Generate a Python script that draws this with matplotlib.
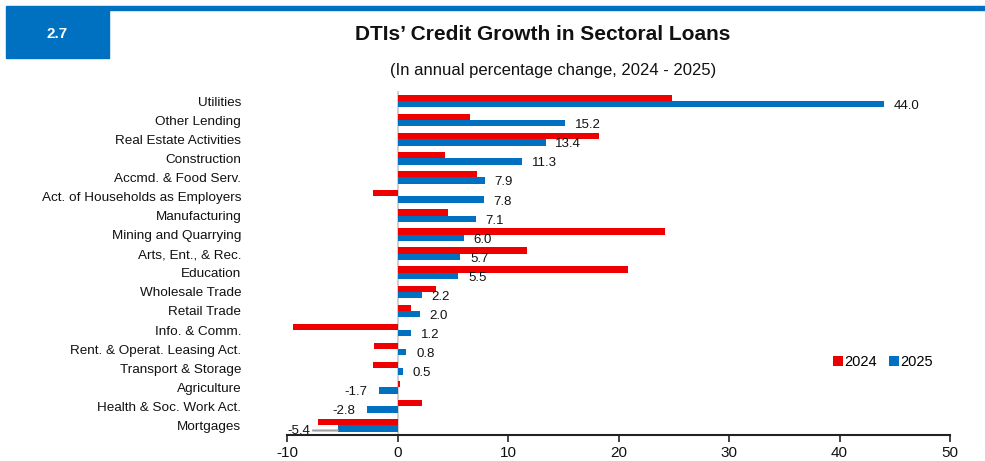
import matplotlib
matplotlib.use("Agg")
import matplotlib.pyplot as plt
from matplotlib.patches import Rectangle
import numpy as np

plt.rcParams['font.family'] = ['Liberation Sans', 'DejaVu Sans']

categories = ["Utilities", "Other Lending", "Real Estate Activities", "Construction",
              "Accmd. & Food Serv.", "Act. of Households as Employers", "Manufacturing",
              "Mining and Quarrying", "Arts, Ent., & Rec.", "Education", "Wholesale Trade",
              "Retail Trade", "Info. & Comm.", "Rent. & Operat. Leasing Act.",
              "Transport & Storage", "Agriculture", "Health & Soc. Work Act.", "Mortgages"]
values_2024 = [24.8, 6.6, 18.2, 4.3, 7.2, -2.2, 4.6, 24.2, 11.7, 20.9, 3.5, 1.2, -9.5,
               -2.1, -2.2, 0.2, 2.2, -7.2]
values_2025 = [44.0, 15.2, 13.4, 11.3, 7.9, 7.8, 7.1, 6.0, 5.7, 5.5, 2.2, 2.0, 1.2,
               0.8, 0.5, -1.7, -2.8, -5.4]
x_ticks = [-10, 0, 10, 20, 30, 40, 50]

RED = "#EE0000"
BLUE = "#0070C0"

fig = plt.figure(figsize=(9.85, 4.61), dpi=100)
W, H = 985, 461

# Header decorations
fig.patches.append(Rectangle((6 / W, 1 - 10 / H), (W - 6) / W, 4 / H,
                             transform=fig.transFigure, color=BLUE, zorder=0))
fig.patches.append(Rectangle((6 / W, 1 - 58 / H), 103 / W, 48 / H,
                             transform=fig.transFigure, color=BLUE, zorder=0))
fig.text(57 / W, 1 - 34 / H, "2.7", color="white", fontsize=11, fontweight="bold",
         ha="center", va="center")
fig.text(543 / W, 1 - 34 / H, "DTIs\u2019 Credit Growth in Sectoral Loans", fontsize=15,
         fontweight="bold", ha="center", va="center", color="#111111")
fig.text(553 / W, 1 - 70 / H, "(In annual percentage change, 2024 - 2025)", fontsize=12,
         ha="center", va="center", color="#111111")

left, right = 287 / W, 950 / W
bottom, top = 26 / H, (H - 91.5) / H
ax = fig.add_axes([left, bottom, right - left, top - bottom])

n = len(categories)
y = np.arange(n)
h = 0.33
ax.barh(y - h / 2, values_2024, height=h, color=RED, label="2024", zorder=2)
ax.barh(y + h / 2, values_2025, height=h, color=BLUE, label="2025", zorder=2)

ax.set_ylim(n - 0.5, -0.5)
ax.set_xlim(-10, 50)
ax.set_yticks(y)
ax.set_yticklabels(categories, fontsize=9.7, color="#111111")
ax.tick_params(axis='y', length=0, pad=33)
ax.set_xticks(x_ticks)
ax.set_xticklabels([str(t) for t in x_ticks], fontsize=11, color="#111111")
ax.tick_params(axis='x', direction='out', length=5, width=1.2, color="#222222", pad=3)

for s in ["top", "right", "left"]:
    ax.spines[s].set_visible(False)
ax.spines["bottom"].set_linewidth(1.5)
ax.spines["bottom"].set_color("#222222")
ax.axvline(0, color="#D0D0D0", linewidth=1.5, zorder=1)

# Data labels for 2025
for i, (yi, v) in enumerate(zip(y, values_2025)):
    if v >= 0:
        ax.annotate(f"{v:.1f}", (v, yi + h / 2 + 0.1), xytext=(7, 0), textcoords="offset points",
                    ha="left", va="center", fontsize=9.5, color="#111111", zorder=3)
    else:
        off = -20 if i == n - 1 else -8
        ax.annotate(f"{v:.1f}", (v, yi + h / 2 + 0.1), xytext=(off, 0), textcoords="offset points",
                    ha="right", va="center", fontsize=9.5, color="#111111", zorder=3,
                    arrowprops=dict(arrowstyle="-", color="#A0A0A0", lw=1.5,
                                    shrinkA=0, shrinkB=0) if i == n - 1 else None)

leg = ax.legend(loc="center", bbox_to_anchor=((883 - 287) / (950 - 287), (H - 362 - 26) / (H - 91.5 - 26)),
                ncol=2, frameon=False, fontsize=10.5, handlelength=0.7, handleheight=0.7,
                handletextpad=0.1, columnspacing=0.8)

fig.savefig("out.png", dpi=100)
